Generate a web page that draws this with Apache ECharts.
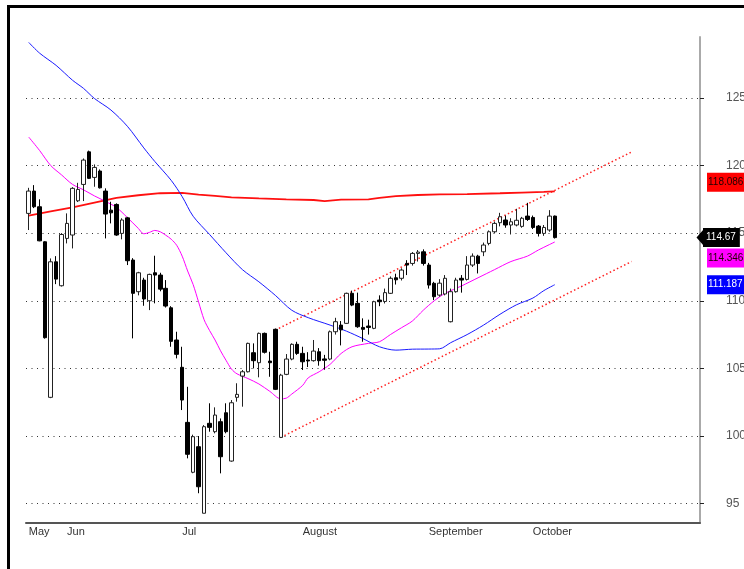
<!DOCTYPE html>
<html>
<head>
<meta charset="utf-8">
<title>chart</title>
<script src="https://cdn.jsdelivr.net/npm/echarts@6/dist/echarts.min.js"></script>
<style>
  html, body { margin: 0; padding: 0; background: #fff; }
  .view01 { width: 744px; height: 569px; }
</style>
</head>
<body>
<div class="view01"></div>
<script>
// x axis: month names and the day index where each month starts
const monthNames = ['May', 'Jun', 'Jul', 'August', 'September', 'October'];
const monthStart = [0, 7, 28, 50, 73, 92];
const slotCount = 123;   // trading days + empty space on the right

// right axis ticks
const yTicks = [95, 100, 105, 110, 115, 120, 125];

// daily candles: [open, close, low, high]
const candles = [
  [116.46, 118.11, 115.23, 118.35], [118.11, 116.95, 116.85, 118.55], [116.95, 114.43, 114.4, 117.5],
  [114.36, 107.27, 107.2, 114.4], [102.86, 112.88, 102.8, 113.13], [112.88, 111.6, 111.23, 113.3],
  [111.11, 114.9, 111.05, 115.0], [114.61, 115.72, 114.24, 116.46], [114.86, 118.31, 113.87, 118.4],
  [117.39, 118.23, 117.3, 118.72], [118.6, 120.4, 117.37, 120.52], [121.01, 119.05, 119.0, 121.1],
  [119.12, 119.86, 118.43, 120.08], [119.59, 118.35, 118.3, 119.71], [118.11, 116.41, 114.61, 118.31],
  [116.7, 116.5, 115.72, 117.32], [117.12, 114.86, 114.8, 117.2], [114.98, 115.97, 114.54, 116.1],
  [116.13, 112.96, 112.64, 116.2], [113.01, 110.55, 107.22, 113.15], [110.67, 112.07, 110.4, 112.14],
  [111.53, 110.13, 109.63, 111.7], [110.0, 111.95, 109.31, 112.0], [112.07, 111.9, 109.81, 113.33],
  [111.9, 110.86, 110.7, 112.07], [110.92, 109.61, 109.5, 111.53], [109.48, 107.0, 106.6, 109.6],
  [107.1, 106.04, 105.74, 107.71], [105.08, 102.66, 101.92, 106.6], [101.01, 98.65, 98.35, 103.64],
  [97.32, 99.95, 97.25, 100.1], [99.21, 96.25, 95.77, 100.0], [94.29, 100.69, 94.29, 100.81],
  [100.94, 100.64, 100.32, 102.42], [100.32, 101.55, 100.2, 102.12], [101.06, 98.47, 97.24, 101.3],
  [101.72, 100.32, 100.2, 102.42], [98.15, 102.46, 98.1, 102.66], [102.86, 103.08, 102.54, 103.9],
  [104.43, 104.75, 102.17, 104.88], [104.75, 106.85, 104.7, 106.9], [106.16, 105.57, 105.0, 106.85],
  [105.42, 107.59, 104.34, 107.65], [107.59, 106.19, 106.1, 107.65], [105.54, 105.42, 104.38, 106.23],
  [107.89, 103.45, 103.4, 107.95], [99.9, 104.5, 99.85, 104.6], [104.56, 105.69, 104.5, 106.06],
  [105.69, 106.78, 105.6, 106.85], [106.78, 106.11, 106.0, 106.97], [106.11, 105.49, 104.88, 106.6],
  [105.62, 105.55, 105.1, 106.2], [105.57, 106.28, 105.5, 107.1], [106.23, 105.57, 105.2, 106.5],
  [105.7, 105.6, 104.9, 106.0], [105.69, 107.71, 105.6, 107.8], [107.71, 108.45, 107.5, 108.74],
  [108.2, 107.85, 106.7, 108.5], [108.33, 110.55, 108.3, 110.6], [110.55, 109.68, 109.6, 110.75],
  [109.81, 108.08, 108.0, 110.6], [108.03, 107.89, 106.97, 108.7], [108.13, 108.03, 107.5, 108.6],
  [107.96, 109.93, 107.9, 110.0], [110.05, 109.93, 109.6, 110.4], [109.95, 110.6, 109.8, 110.9],
  [110.55, 111.66, 110.5, 111.8], [111.7, 111.55, 111.2, 112.0], [111.66, 112.27, 111.5, 112.4],
  [112.76, 112.64, 111.9, 113.0], [112.76, 113.5, 112.6, 113.6], [113.5, 113.6, 112.9, 113.75],
  [113.62, 112.76, 112.6, 113.8], [112.64, 111.16, 110.9, 112.8], [111.29, 110.3, 110.05, 111.4],
  [110.42, 111.3, 110.3, 111.6], [110.5, 111.66, 110.4, 111.9], [108.45, 110.67, 108.4, 110.9],
  [110.67, 111.53, 110.6, 111.7], [111.66, 111.53, 110.6, 111.9], [111.58, 112.64, 111.5, 113.3],
  [112.64, 113.3, 112.5, 113.5], [113.3, 112.76, 112.02, 113.4], [113.62, 114.12, 113.3, 114.3],
  [114.24, 115.1, 114.1, 115.2], [115.1, 115.72, 115.0, 115.85], [115.77, 116.21, 115.5, 116.5],
  [115.97, 115.6, 115.4, 116.3], [115.6, 115.84, 114.9, 116.1], [115.6, 115.95, 115.5, 116.8],
  [115.5, 116.1, 115.4, 116.2], [116.26, 116.01, 115.9, 117.24], [116.16, 115.42, 115.3, 116.3],
  [115.52, 114.98, 114.75, 115.6], [114.98, 115.42, 114.8, 115.6], [115.23, 116.26, 115.1, 116.7],
  [116.26, 114.67, 114.6, 116.3]
];

// moving averages: [day index, value]
const maRed = [
  [0, 116.3], [4, 116.6], [8, 116.9], [12, 117.25], [16, 117.6], [20, 117.8], [24, 117.95],
  [28, 117.97], [31, 117.85], [34, 117.75], [37, 117.65], [42, 117.57], [47, 117.5], [52, 117.45],
  [54, 117.37], [57, 117.47], [62, 117.5], [64, 117.6], [67, 117.74], [71, 117.82], [75, 117.86],
  [80, 117.88], [86, 117.95], [90, 118.0], [94, 118.05], [96, 118.086]
];
const maPink = [
  [0, 122.1], [2, 121.1], [4, 120.0], [6, 119.3], [8, 118.6], [10, 118.2], [12, 117.75], [14, 117.35],
  [16, 116.9], [18, 116.15], [20, 115.35], [21, 114.95], [22, 115.05], [23, 115.2], [24, 115.1],
  [25, 114.85], [26, 114.55], [27, 114.1], [28, 113.3], [29, 112.2], [30, 111.2], [31, 109.9],
  [32, 108.6], [33, 107.8], [34, 107.1], [35, 106.3], [36, 105.6], [37, 104.95], [38, 104.6],
  [40, 104.25], [42, 103.85], [44, 103.3], [46, 102.75], [47, 102.8], [48, 103.1], [50, 103.75],
  [51, 104.3], [53, 104.75], [55, 105.3], [57, 106.1], [59, 106.6], [62, 106.85], [64, 106.97],
  [66, 107.5], [68, 108.0], [70, 108.5], [72, 109.3], [74, 110.0], [76, 110.55], [79, 111.1],
  [82, 111.7], [85, 112.3], [88, 112.9], [91, 113.3], [93, 113.75], [95, 114.15], [96, 114.346]
];
const maBlue = [
  [0, 129.1], [2, 128.3], [5, 127.4], [8, 126.3], [10, 125.7], [12, 124.95], [15, 124.1], [18, 122.9],
  [21, 121.3], [23, 120.3], [26, 118.9], [28, 117.7], [30, 116.25], [33, 114.9], [36, 113.55],
  [39, 112.3], [42, 111.4], [45, 110.4], [48, 109.3], [51, 108.75], [55, 108.2], [58, 107.75],
  [61, 107.2], [64, 106.6], [67, 106.35], [70, 106.42], [73, 106.43], [75, 106.45], [77, 106.9],
  [80, 107.5], [83, 108.2], [86, 109.0], [89, 109.7], [92, 110.2], [94, 110.75], [96, 111.187]
];

// trend channel drawn on the chart
const channelUpper = [[45, 107.83], [110, 121.0]];
const channelLower = [[46, 99.9], [110, 112.9]];

window.onload = function () {
  // 1、初始化
  let view1 = document.querySelector('.view01');
  let chart1 = echarts.init(view1);

  const font = "'Liberation Sans', Arial, sans-serif";
  const days = [];
  for (let i = 0; i < slotCount; i++) days.push('d' + i);
  const monthAt = {};
  monthStart.forEach((d, i) => { monthAt[d] = monthNames[i]; });

  // price tag on the right axis
  function tag(value, bg, fg, offsetY) {
    return {
      silent: true,
      symbol: ['none', 'none'],
      lineStyle: { width: 0, color: bg },
      data: [{ yAxis: value }],
      label: {
        position: 'end',
        distance: 7,
        formatter: String(value),
        backgroundColor: bg,
        color: fg,
        fontFamily: font,
        fontSize: 10,
        padding: [5, 2, 4, 1],
        offset: [0, offsetY]
      }
    };
  }

  const last = candles[candles.length - 1][1];
  const closeTag = tag(last, '#000', '#fff', 0);
  closeTag.symbol = ['none', 'path://M0,0 L10,0 L5,8 Z'];
  closeTag.symbolSize = [16, 7];
  closeTag.lineStyle = { width: 0, color: '#000' };
  closeTag.label.distance = 3;
  closeTag.label.padding = [5, 4, 4, 3];

  // 2、参数
  let option1 = {
    animation: false,
    backgroundColor: '#fff',
    grid: { left: 26, right: 44, top: 37, bottom: 46, outerBoundsMode: 'none', containLabel: false },
    xAxis: {
      type: 'category',
      data: days,
      boundaryGap: true,
      axisLine: { lineStyle: { color: '#555', width: 2 } },
      axisTick: {
        alignWithLabel: true,
        length: 5,
        interval: (i) => i !== 0 && monthAt[i] !== undefined,
        lineStyle: { color: '#333' }
      },
      axisLabel: {
        interval: (i) => monthAt[i] !== undefined,
        formatter: (v, i) => monthAt[i] || '',
        align: 'left',
        margin: 3,
        color: '#333',
        fontFamily: font,
        fontSize: 11
      },
      splitLine: { show: false }
    },
    yAxis: {
      type: 'value',
      position: 'right',
      min: 93.57,
      max: 129.5,
      axisLine: { show: true, lineStyle: { color: '#aaa', width: 2 } },
      axisTick: { show: true, length: 4, customValues: yTicks, lineStyle: { color: '#222' } },
      axisLabel: {
        customValues: yTicks,
        margin: 26,
        color: '#555',
        fontFamily: font,
        fontSize: 12
      },
      splitLine: { show: true, lineStyle: { color: '#333', width: 1, type: [1, 4.5] } }
    },
    graphic: [
      { type: 'rect', shape: { x: 7, y: 5, width: 737, height: 3 }, style: { fill: '#000' } },
      { type: 'rect', shape: { x: 7, y: 5, width: 3, height: 564 }, style: { fill: '#000' } }
    ],
    series: [
      {
        type: 'line', data: channelUpper, symbol: 'none', z: 1,
        lineStyle: { color: '#ff2020', width: 1.5, type: [1.5, 2.5] }
      },
      {
        type: 'line', data: channelLower, symbol: 'none', z: 1,
        lineStyle: { color: '#ff2020', width: 1.5, type: [1.5, 2.5] }
      },
      {
        type: 'line', data: maRed, symbol: 'none', z: 3,
        lineStyle: { color: '#ff1010', width: 1.8 },
        markLine: tag(maRed[maRed.length - 1][1], '#ff0000', '#200', -9)
      },
      {
        type: 'line', data: maPink, symbol: 'none', z: 3, smooth: 0.3,
        lineStyle: { color: '#ff00ff', width: 1 },
        markLine: tag(maPink[maPink.length - 1][1], '#ff00ff', '#200', 16)
      },
      {
        type: 'line', data: maBlue, symbol: 'none', z: 3, smooth: 0.3,
        lineStyle: { color: '#1a1aff', width: 1 },
        markLine: tag(maBlue[maBlue.length - 1][1], '#0000ff', '#fff', 0)
      },
      {
        type: 'candlestick',
        data: candles,
        barWidth: 4,
        z: 4,
        itemStyle: {
          color: '#fff',
          color0: '#000',
          borderColor: '#222',
          borderColor0: '#000',
          borderWidth: 1
        },
        markLine: closeTag
      }
    ]
  };
  // 3、设置参数
  chart1.setOption(option1);
};
</script>
</body>
</html>
